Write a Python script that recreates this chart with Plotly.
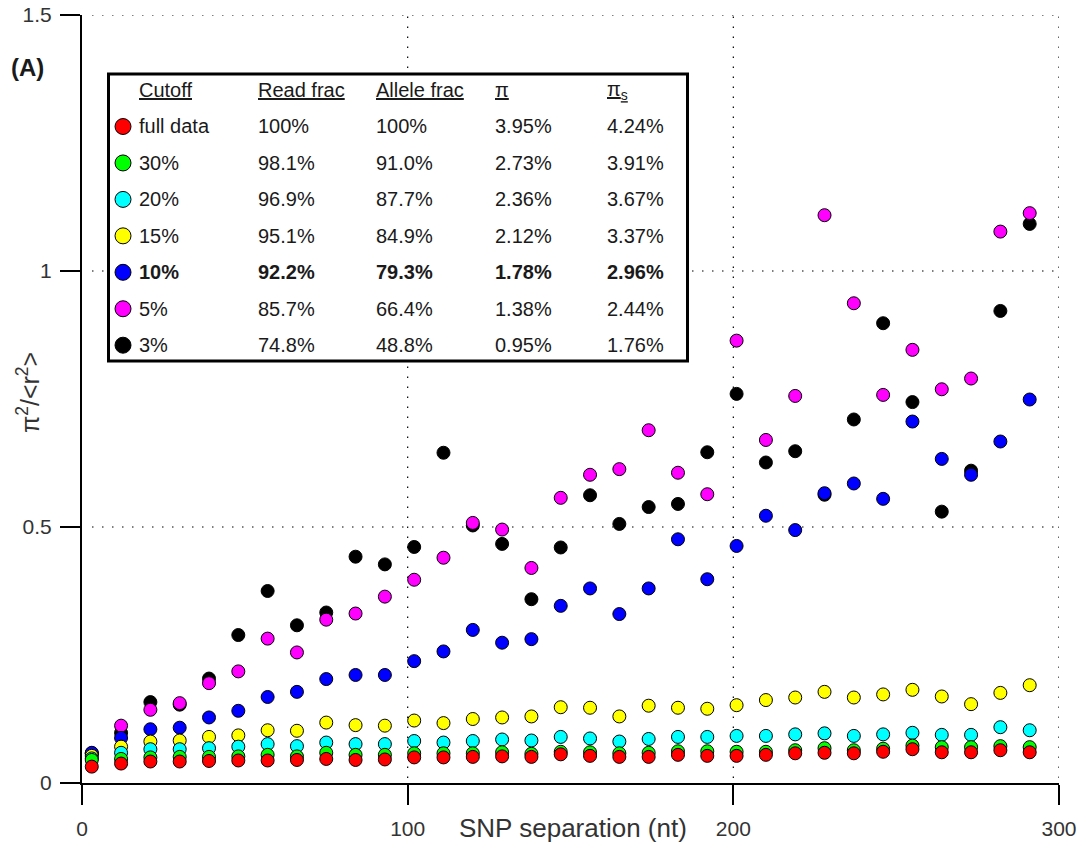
import plotly.graph_objects as go

# SNP separation (nt), one bin every 9 nt
separation = [3 + 9 * k for k in range(33)]

# pi^2 / <r^2> for each frequency cutoff
full_data = [0.032, 0.038, 0.042, 0.042, 0.043, 0.044, 0.044, 0.045, 0.047, 0.045, 0.046,
             0.050, 0.050, 0.051, 0.052, 0.051, 0.056, 0.053, 0.051, 0.051, 0.055, 0.053,
             0.053, 0.055, 0.058, 0.059, 0.058, 0.061, 0.066, 0.060, 0.060, 0.064, 0.060]
cut_30 = [0.045, 0.047, 0.050, 0.051, 0.051, 0.052, 0.055, 0.052, 0.059, 0.055, 0.055,
          0.058, 0.058, 0.058, 0.060, 0.057, 0.061, 0.060, 0.058, 0.059, 0.062, 0.062,
          0.061, 0.061, 0.064, 0.068, 0.064, 0.067, 0.073, 0.070, 0.070, 0.072, 0.070]
cut_20 = [0.048, 0.059, 0.066, 0.066, 0.068, 0.071, 0.076, 0.072, 0.079, 0.076, 0.076,
          0.082, 0.079, 0.082, 0.085, 0.083, 0.090, 0.087, 0.081, 0.086, 0.090, 0.090,
          0.092, 0.092, 0.095, 0.097, 0.092, 0.095, 0.098, 0.094, 0.094, 0.109, 0.103]
cut_15 = [0.053, 0.071, 0.081, 0.083, 0.090, 0.093, 0.103, 0.102, 0.118, 0.113, 0.112,
          0.122, 0.117, 0.125, 0.128, 0.130, 0.148, 0.147, 0.130, 0.151, 0.147, 0.145,
          0.152, 0.162, 0.167, 0.178, 0.167, 0.173, 0.182, 0.169, 0.154, 0.176, 0.191]
cut_10 = [0.059, 0.088, 0.105, 0.108, 0.128, 0.141, 0.168, 0.178, 0.203, 0.211, 0.211,
          0.238, 0.257, 0.299, 0.274, 0.281, 0.346, 0.380, 0.330, 0.380, 0.476, 0.398,
          0.463, 0.522, 0.494, 0.566, 0.585, 0.555, 0.706, 0.633, 0.602, 0.667, 0.749]
cut_5 = [0.057, 0.112, 0.143, 0.156, 0.195, 0.218, 0.282, 0.255, 0.319, 0.331, 0.364,
         0.397, 0.440, 0.508, 0.495, 0.420, 0.557, 0.602, 0.613, 0.689, 0.606, 0.564,
         0.864, 0.670, 0.756, 1.109, 0.937, 0.758, 0.846, 0.769, 0.790, 1.077, 1.113]
cut_3 = [0.058, 0.098, 0.158, 0.153, 0.204, 0.289, 0.375, 0.308, 0.333, 0.442, 0.427,
         0.461, 0.645, 0.503, 0.467, 0.359, 0.460, 0.562, 0.506, 0.539, 0.545, 0.646,
         0.760, 0.626, 0.648, 0.563, 0.710, 0.898, 0.744, 0.530, 0.610, 0.922, 1.092]

# Summary table shown in the inset
cutoff_labels = ["full data", "30%", "20%", "15%", "10%", "5%", "3%"]
read_frac = ["100%", "98.1%", "96.9%", "95.1%", "92.2%", "85.7%", "74.8%"]
allele_frac = ["100%", "91.0%", "87.7%", "84.9%", "79.3%", "66.4%", "48.8%"]
pi_vals = ["3.95%", "2.73%", "2.36%", "2.12%", "1.78%", "1.38%", "0.95%"]
pi_s_vals = ["4.24%", "3.91%", "3.67%", "3.37%", "2.96%", "2.44%", "1.76%"]
table_headers = ["Cutoff", "Read frac", "Allele frac", "π", "π<sub>s</sub>"]
highlight_row = "10%"

series = [full_data, cut_30, cut_20, cut_15, cut_10, cut_5, cut_3]
colors = ["#ff0000", "#00ff00", "#00ffff", "#ffff00", "#0000ff", "#ff00ff", "#000000"]

x_ticks = [0, 100, 200, 300]
y_ticks = [0, 0.5, 1, 1.5]

FONT = "Liberation Sans, Arial, Helvetica, sans-serif"
TEXT = "#1a1a1a"

W, H = 1082, 847
L, R, T, B = 82, 1059, 15, 783


def fx(p):
    return (p - L) / (R - L)


def fy(p):
    return (B - p) / (B - T)


fig = go.Figure()

# Loosest cutoff drawn last so it sits on top
for name, vals, col in reversed(list(zip(cutoff_labels, series, colors))):
    fig.add_trace(go.Scatter(
        x=separation, y=vals, mode="markers", name=name,
        marker=dict(size=13, color=col, line=dict(color="#000000", width=1)),
        cliponaxis=False,
    ))

shapes = []
# dotted grid
for xv in x_ticks[1:]:
    shapes.append(dict(type="line", xref="x", yref="paper", x0=xv, x1=xv, y0=fy(778), y1=1,
                       line=dict(color="#000000", width=1.2, dash="1.5px,8.5px"), layer="below"))
for yv in y_ticks[1:]:
    shapes.append(dict(type="line", xref="paper", yref="y", x0=fx(92), x1=1, y0=yv, y1=yv,
                       line=dict(color="#000000", width=1.2, dash="1.5px,8.5px"), layer="below"))
# axis lines run past the origin by a tick length
shapes.append(dict(type="line", xref="paper", yref="paper", x0=fx(62), x1=0, y0=0, y1=0,
                   line=dict(color="#000000", width=2)))
shapes.append(dict(type="line", xref="paper", yref="paper", x0=0, x1=0, y0=fy(803), y1=0,
                   line=dict(color="#000000", width=2)))

# inset table frame
shapes.append(dict(type="rect", xref="paper", yref="paper", x0=fx(108.5), x1=fx(687.5),
                   y0=fy(361), y1=fy(74), line=dict(color="#000000", width=3),
                   fillcolor="#ffffff", layer="above"))

annotations = []
col_x = [137, 256, 374, 493, 605]
header_y = 90
row_y0, row_dy = 126.5, 36.45

for cx, htxt in zip(col_x, table_headers):
    annotations.append(dict(xref="paper", yref="paper", x=fx(cx), y=fy(header_y), text=htxt,
                            showarrow=False, xanchor="left", yanchor="middle",
                            font=dict(family=FONT, size=20, color=TEXT, lineposition="under")))

for i, (lab, rf, af, p, ps, col) in enumerate(zip(cutoff_labels, read_frac, allele_frac,
                                                  pi_vals, pi_s_vals, colors)):
    ry = row_y0 + i * row_dy
    shapes.append(dict(type="circle", xref="paper", yref="paper", xsizemode="pixel",
                       ysizemode="pixel", xanchor=fx(123), yanchor=fy(ry),
                       x0=-8, x1=8, y0=-8, y1=8, fillcolor=col,
                       line=dict(color="#000000", width=1), layer="above"))
    for cx, txt in zip(col_x, [lab, rf, af, p, ps]):
        if lab == highlight_row:
            txt = "<b>" + txt + "</b>"
        annotations.append(dict(xref="paper", yref="paper", x=fx(cx), y=fy(ry), text=txt,
                                showarrow=False, xanchor="left", yanchor="middle",
                                font=dict(family=FONT, size=20, color=TEXT)))

# panel letter
annotations.append(dict(xref="paper", yref="paper", x=fx(9), y=fy(67), text="<b>(A)</b>",
                        showarrow=False, xanchor="left", yanchor="middle",
                        font=dict(family=FONT, size=24, color=TEXT)))
# axis titles
annotations.append(dict(xref="paper", yref="paper", x=fx(573), y=fy(828),
                        text="SNP separation (nt)", showarrow=False,
                        xanchor="center", yanchor="middle",
                        font=dict(family=FONT, size=26, color="#333333")))
annotations.append(dict(xref="paper", yref="paper", x=fx(28), y=fy(393),
                        text="π<sup>2</sup>/&lt;r<sup>2</sup>&gt;", textangle=-90,
                        showarrow=False, xanchor="center", yanchor="middle",
                        font=dict(family=FONT, size=25, color="#333333")))

fig.update_layout(
    width=W, height=H,
    margin=dict(l=L, r=W - R, t=T, b=H - B, autoexpand=False),
    paper_bgcolor="#ffffff", plot_bgcolor="#ffffff",
    showlegend=False,
    font=dict(family=FONT, color=TEXT),
    shapes=shapes, annotations=annotations,
    xaxis=dict(range=[0, 300], tickvals=x_ticks, ticktext=[str(v) for v in x_ticks],
               automargin=False,
               showgrid=False, zeroline=False, showline=True, linecolor="#000000", linewidth=2,
               ticks="outside", ticklen=20, tickwidth=2, tickcolor="#000000",
               tickfont=dict(family=FONT, size=21, color="#333333"), ticklabelstandoff=6),
    yaxis=dict(range=[0, 1.5], tickvals=y_ticks, ticktext=["0", "0.5", "1", "1.5"],
               automargin=False,
               showgrid=False, zeroline=False, showline=True, linecolor="#000000", linewidth=2,
               ticks="outside", ticklen=20, tickwidth=2, tickcolor="#000000",
               tickfont=dict(family=FONT, size=21, color="#333333"), ticklabelstandoff=4),
)

fig.write_html("out.html")
